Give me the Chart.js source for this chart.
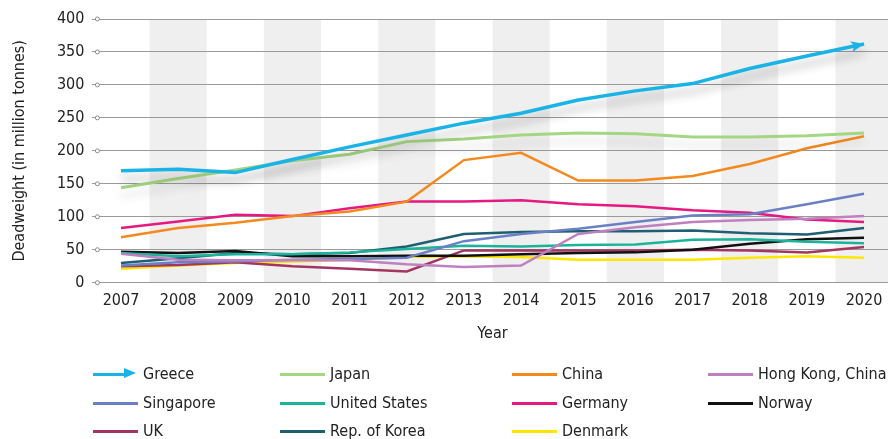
<!DOCTYPE html>
<html>
<head>
<meta charset="utf-8">
<script src="https://cdn.jsdelivr.net/npm/chart.js@4/dist/chart.umd.min.js"></script>
<style>
  html, body { margin: 0; padding: 0; background: #fff; overflow: hidden; width: 888px; height: 439px; }
  #wrap { position: relative; width: 888px; height: 439px; }
  #c { position: absolute; left: 0; top: 0; }
  #legend { position: absolute; left: 0; top: 0; width: 888px; height: 439px; pointer-events: none;
    font-family: "DejaVu Sans Condensed", "DejaVu Sans", sans-serif; font-size: 16px; color: #222; }
  .item { position: absolute; height: 20px; line-height: 20px; white-space: nowrap; }
  .swatch { position: absolute; left: 0; top: 8.5px; width: 45px; height: 3px; }
  .label { position: absolute; left: 50px; top: 0; }
</style>
</head>
<body>
<div id="wrap">
  <canvas id="c" width="900" height="350"></canvas>
  <div id="legend"></div>
</div>
<script>
const years = ['2007','2008','2009','2010','2011','2012','2013','2014','2015','2016','2017','2018','2019','2020'];
const yTicks = [0, 50, 100, 150, 200, 250, 300, 350, 400];

const greece       = [170,172,167,187,206,224,242,257,277,291,302,325,344,362];
const japan        = [144,158,171,185,195,214,218,224,227,226,221,221,223,227];
const china        = [69,83,91,101,108,123,186,197,155,155,162,180,204,222];
const hongKong     = [44,35,34,34,34,28,24,26,74,84,92,95,97,101];
const singapore    = [26,31,32,35,36,38,63,74,82,92,102,104,119,135];
const unitedStates = [45,40,43,43,46,51,56,55,57,58,65,66,62,60];
const germany      = [83,93,103,101,113,123,123,125,119,116,110,106,96,92];
const norway       = [47,45,48,40,40,41,41,43,45,46,50,59,66,68];
const uk           = [25,27,31,25,21,17,49,49,49,49,50,49,46,54];
const korea        = [30,37,45,43,45,55,74,77,78,78,79,75,73,83];
const denmark      = [21,26,30,32,35,39,40,39,35,35,35,38,40,38];

const seriesNames  = ['Greece','Japan','China','Hong Kong, China','Singapore','United States','Germany','Norway','UK','Rep. of Korea','Denmark'];
const seriesData   = [greece, japan, china, hongKong, singapore, unitedStates, germany, norway, uk, korea, denmark];
const seriesColors = ['#19b3e6','#a5d683','#f5891f','#bf80bf','#6b80c4','#1cb39c','#e5197f','#111111','#a33660','#1e5f71','#ffe600'];

const FONT = '"DejaVu Sans Condensed", "DejaVu Sans", sans-serif';

const datasets = seriesNames.map((n, i) => ({
  label: n,
  data: seriesData[i],
  borderColor: seriesColors[i],
  backgroundColor: seriesColors[i],
  borderWidth: i === 0 ? 3.5 : (i === 1 ? 3 : 2.5),
  pointRadius: 0,
  tension: 0,
  fill: false
}));

const bandsPlugin = {
  id: 'bands',
  beforeDraw(chart) {
    const {ctx, chartArea, scales} = chart;
    const x = scales.x;
    const step = x.getPixelForValue(1) - x.getPixelForValue(0);
    ctx.save();
    ctx.fillStyle = '#efefef';
    for (let i = 1; i < years.length; i += 2) {
      const cx = x.getPixelForValue(i);
      ctx.fillRect(cx - step / 2, chartArea.top, step, chartArea.bottom - chartArea.top);
    }
    ctx.restore();
  },
  afterDraw(chart) {
    const {ctx, chartArea, scales} = chart;
    ctx.save();
    ctx.fillStyle = '#fff';
    ctx.strokeStyle = '#8a8a8a';
    ctx.lineWidth = 1;
    yTicks.forEach(v => {
      const y = scales.y.getPixelForValue(v);
      ctx.beginPath();
      ctx.arc(chartArea.left + 5, y, 2, 0, Math.PI * 2);
      ctx.fill();
      ctx.stroke();
    });
    ctx.restore();
  }
};

const shadowPlugin = {
  id: 'shadow',
  beforeDatasetDraw(chart, args) {
    if (args.index === 0 || args.index === 1) {
      const ctx = chart.ctx;
      ctx.save();
      ctx.shadowColor = args.index === 0 ? 'rgba(0,0,0,0.28)' : 'rgba(0,0,0,0.14)';
      ctx.shadowBlur = 10;
      ctx.shadowOffsetX = 0;
      ctx.shadowOffsetY = 8;
    }
  },
  afterDatasetDraw(chart, args) {
    if (args.index === 0 || args.index === 1) chart.ctx.restore();
    if (args.index === 0) {
      const pts = chart.getDatasetMeta(0).data;
      const p1 = pts[pts.length - 1], p0 = pts[pts.length - 2];
      const a = Math.atan2(p1.y - p0.y, p1.x - p0.x);
      const ctx = chart.ctx;
      const len = 13, hw = 5.5;
      ctx.save();
      ctx.translate(p1.x, p1.y);
      ctx.rotate(a);
      ctx.fillStyle = seriesColors[0];
      ctx.beginPath();
      ctx.moveTo(0, 0);
      ctx.lineTo(-len, -hw);
      ctx.lineTo(-len + 3, 0);
      ctx.lineTo(-len, hw);
      ctx.closePath();
      ctx.fill();
      ctx.restore();
    }
  }
};

new Chart(document.getElementById('c'), {
  type: 'line',
  data: { labels: years, datasets },
  options: {
    responsive: false,
    animation: false,
    devicePixelRatio: 1,
    layout: { padding: { top: 19, right: 7.4, left: 0, bottom: 0 } },
    plugins: { legend: { display: false }, tooltip: { enabled: false } },
    scales: {
      x: {
        offset: true,
        grid: { display: false, drawTicks: false },
        border: { display: false },
        ticks: { color: '#222', font: { family: FONT, size: 16 }, padding: 9, maxRotation: 0, autoSkip: false },
        title: { display: true, text: 'Year', color: '#222', font: { family: FONT, size: 16 }, padding: { top: 4, bottom: 7 } },
        afterFit(scale) { scale.height = 67.3; }
      },
      y: {
        min: 0, max: 400,
        afterBuildTicks(scale) { scale.ticks = yTicks.map(v => ({ value: v })); },
        grid: { color: '#9a9a9a', lineWidth: 1, drawTicks: false },
        border: { display: false },
        ticks: { color: '#222', font: { family: FONT, size: 16 }, padding: 8 },
        title: { display: true, text: 'Deadweight (in million tonnes)', color: '#222', font: { family: FONT, size: 16 }, padding: { top: 10, bottom: 0 } },
        afterFit(scale) { scale.width = 92.4; }
      }
    }
  },
  plugins: [bandsPlugin, shadowPlugin]
});

// Legend (HTML) built from the series arrays
const legendCols = [93, 280, 512, 708];
const legendRows = [364, 393, 421];
const legend = document.getElementById('legend');
seriesNames.forEach((n, i) => {
  const item = document.createElement('div');
  item.className = 'item';
  item.style.left = legendCols[i % 4] + 'px';
  item.style.top = legendRows[Math.floor(i / 4)] + 'px';
  const sw = document.createElement('div');
  sw.className = 'swatch';
  sw.style.background = seriesColors[i];
  if (i === 0) {
    sw.style.width = '34px';
    const head = document.createElement('div');
    head.style.cssText = 'position:absolute;left:31px;top:4px;width:0;height:0;border-top:5.5px solid transparent;border-bottom:5.5px solid transparent;border-left:12px solid ' + seriesColors[0] + ';';
    item.appendChild(head);
  }
  const lb = document.createElement('div');
  lb.className = 'label';
  lb.textContent = n;
  item.appendChild(sw);
  item.appendChild(lb);
  legend.appendChild(item);
});
</script>
</body>
</html>
